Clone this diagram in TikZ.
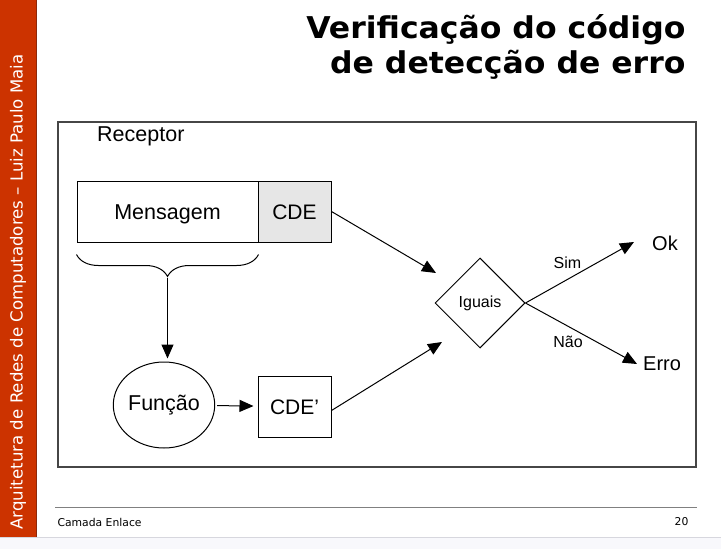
\documentclass[tikz,border=0pt]{standalone}
\usepackage{fontspec}
\setmainfont{Liberation Sans}
\newfontfamily\slideFont{DejaVu Sans}
\newfontfamily\titleFont[FakeStretch = 1.05]{DejaVu Sans}
\usetikzlibrary{arrows.meta}
\usetikzlibrary{shapes}
\usetikzlibrary{decorations.pathreplacing}

\definecolor{barRed}{RGB}{204,51,0}
\definecolor{barEdge}{RGB}{140,40,10}
\definecolor{bandGray}{RGB}{248,248,252}
\definecolor{bandLine}{RGB}{215,215,222}
\definecolor{cdeGray}{RGB}{230,230,230}
\definecolor{frameGray}{RGB}{70,70,70}

\begin{document}
\begin{tikzpicture}[x = 1pt, y = -1pt]
\tikzstyle{boxStyle} = [shape = rectangle, draw, line width = 1pt, minimum height = 61pt, inner sep = 0pt, text height = 15pt, text depth = 0pt, font = \fontsize{21}{21}\selectfont]
\tikzstyle{arrowStyle} = [-{Triangle[length = 14pt, width = 12pt]}, line width = 1pt]
\tikzstyle{labelStyle} = [inner sep = 0pt, font = \fontsize{16}{16}\selectfont]
\tikzstyle{outStyle} = [inner sep = 0pt, font = \fontsize{20}{20}\selectfont]
\useasboundingbox (0,0) rectangle (721,549);
% slide frame
\fill[barRed] (0,0) rectangle (37,537);
\draw[barEdge, line width = 1pt] (36.5,0) -- (36.5,537);
\fill[bandGray] (0,537) rectangle (721,549);
\draw[bandLine] (0,537.5) -- (721,537.5);
\node[rotate = 90, text = white, font = \slideFont\fontsize{16.6}{16.6}\selectfont] (side) at (18,292) {Arquitetura de Redes de Computadores – Luiz Paulo Maia};
\node[anchor = east, font = \titleFont\bfseries\fontsize{30}{30}\selectfont] (title1) at (689,30) {Verificação do código};
\node[anchor = east, font = \titleFont\bfseries\fontsize{30}{30}\selectfont] (title2) at (689,65) {de detecção de erro};
\draw[gray, line width = 1pt] (55,507) -- (697,507);
\node[anchor = west, font = \slideFont\fontsize{10.8}{10.8}\selectfont] (foot) at (54,522) {Camada Enlace};
\node[anchor = east, font = \slideFont\fontsize{10.8}{10.8}\selectfont] (page) at (692,522) {20};
% diagram
\draw[frameGray, line width = 1.3pt] (58,122) rectangle (696,467);
\node[anchor = west, inner sep = 0pt, font = \fontsize{21.5}{21.5}\selectfont] (rec) at (97,136) {Receptor};
\node[boxStyle, minimum width = 181pt, font = \fontsize{21.5}{21.5}\selectfont] (msg) at (167.5,211.5) {Mensagem};
\node[boxStyle, minimum width = 73pt, fill = cdeGray] (cde) at (294.5,211.5) {CDE};
\node[shape = ellipse, draw, line width = 1pt, minimum width = 93pt, minimum height = 86pt, inner sep = 0pt, font = \fontsize{21.5}{21.5}\selectfont] (func) at (164,405) {Função};
\node[boxStyle, minimum width = 73pt] (cdeb) at (294.5,406.5) {CDE’};
\node[shape = diamond, draw, line width = 1pt, minimum width = 90pt, minimum height = 90pt, inner sep = 0pt, font = \fontsize{16}{16}\selectfont] (igu) at (480,303) {Iguais};
\node[outStyle, anchor = west] (ok) at (652,243) {Ok};
\node[outStyle, anchor = west] (erro) at (643,364) {Erro};
\node[labelStyle] (sim) at (567.5,263) {Sim};
\node[labelStyle] (nao) at (568,342) {Não};
\coordinate (inTop) at (436,273);
\coordinate (inBot) at (442,342);
\coordinate (okIn) at (634,242);
\coordinate (erroIn) at (637,364);
\draw[line width = 1pt, decorate, decoration = {brace, mirror, amplitude = 22pt}] ([yshift = -12pt]msg.south west) -- ([yshift = -12pt]msg.south east) coordinate[midway, yshift = -23pt] (tip);
\draw[arrowStyle, shorten > = 3pt] (tip) -- (tip |- func.north);
\draw[arrowStyle, shorten > = 4pt, shorten < = 2pt] (func) -- (cdeb);
\draw[arrowStyle] (cde.east) -- (inTop);
\draw[arrowStyle] ([yshift = -4pt]cdeb.east) -- (inBot);
\draw[arrowStyle] (igu.east) -- (okIn);
\draw[arrowStyle] (igu.east) -- (erroIn);
\end{tikzpicture}
\end{document}
